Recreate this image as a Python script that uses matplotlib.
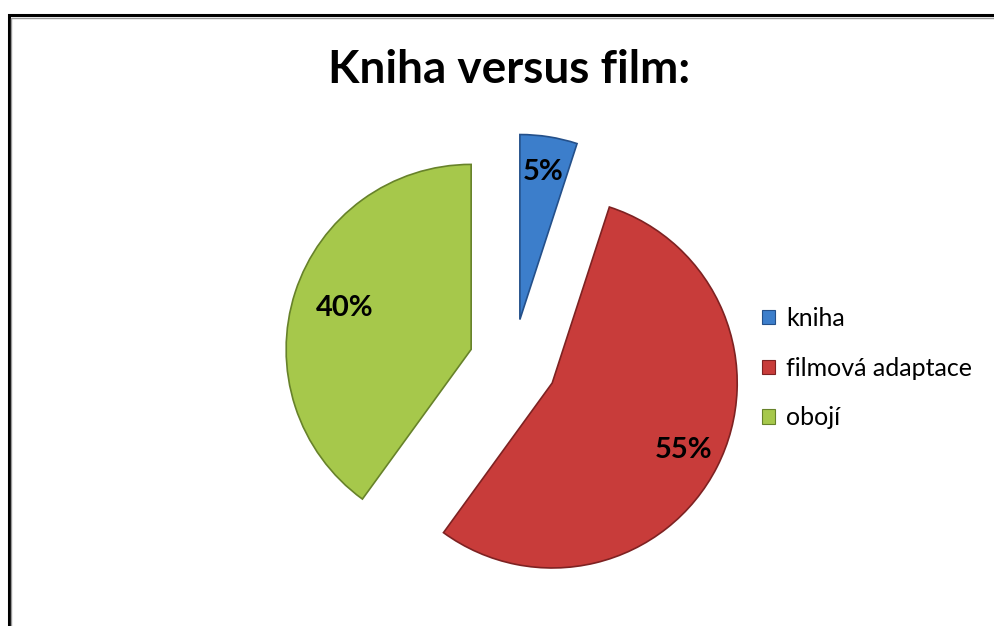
import numpy as np
import matplotlib.pyplot as plt
from matplotlib.patches import Rectangle

labels = ["kniha", "filmová adaptace", "obojí"]
values = [5, 55, 40]
colors = ["#3c7ecb", "#c83c3a", "#a6c84b"]
edges = ["#24508a", "#7e2222", "#67822a"]
label_dist = [0.81, 0.80, 0.72]

plt.rcParams['font.family'] = ['Lato', 'DejaVu Sans']

fig = plt.figure(figsize=(9.95, 6.26), dpi=100)
ax = fig.add_axes([0, 0, 1, 1])

R = 185
wedges, texts, autotexts = ax.pie(
    values, colors=colors, startangle=90, counterclock=False,
    explode=[44, 44, 44], center=(513, 263), radius=R,
    autopct='%d%%', pctdistance=0.8, frame=True,
    textprops=dict(fontsize=21, fontweight='bold', color='black'),
    wedgeprops=dict(linewidth=1.2),
)
ax.set_xlim(0, 995)
ax.set_ylim(0, 626)
ax.set_aspect('equal')
ax.axis('off')
for w, e, t, d in zip(wedges, edges, autotexts, label_dist):
    w.set_edgecolor(e)
    mid = np.deg2rad((w.theta1 + w.theta2) / 2)
    cx, cy = w.center
    t.set_position((cx + d * R * np.cos(mid), cy + d * R * np.sin(mid)))

fig.text(0.512, 1 - 70 / 626, "Kniha versus film:", ha='center', va='center',
         fontsize=33, fontweight='bold')

handles = [Rectangle((0, 0), 1, 1, facecolor=c, edgecolor=e, linewidth=0.8)
           for c, e in zip(colors, edges)]
fig.legend(handles, labels, loc='center left',
           bbox_to_anchor=(740 / 995, 1 - 368 / 626), frameon=False,
           fontsize=18, handlelength=0.5, handleheight=0.5,
           handletextpad=0.45, labelspacing=1.07)

# outer frame (only left and top edges visible in the crop)
fig.patches.append(Rectangle((8.5 / 995, -0.1), 1.2, 1 - 15 / 626 + 0.1,
                             transform=fig.transFigure, fill=False,
                             edgecolor='black', linewidth=2.2))
fig.patches.append(Rectangle((11.5 / 995, -0.1), 1.2, 1 - 18 / 626 + 0.1,
                             transform=fig.transFigure, fill=False,
                             edgecolor='#999999', linewidth=1.0))

fig.savefig("out.png", dpi=100)
